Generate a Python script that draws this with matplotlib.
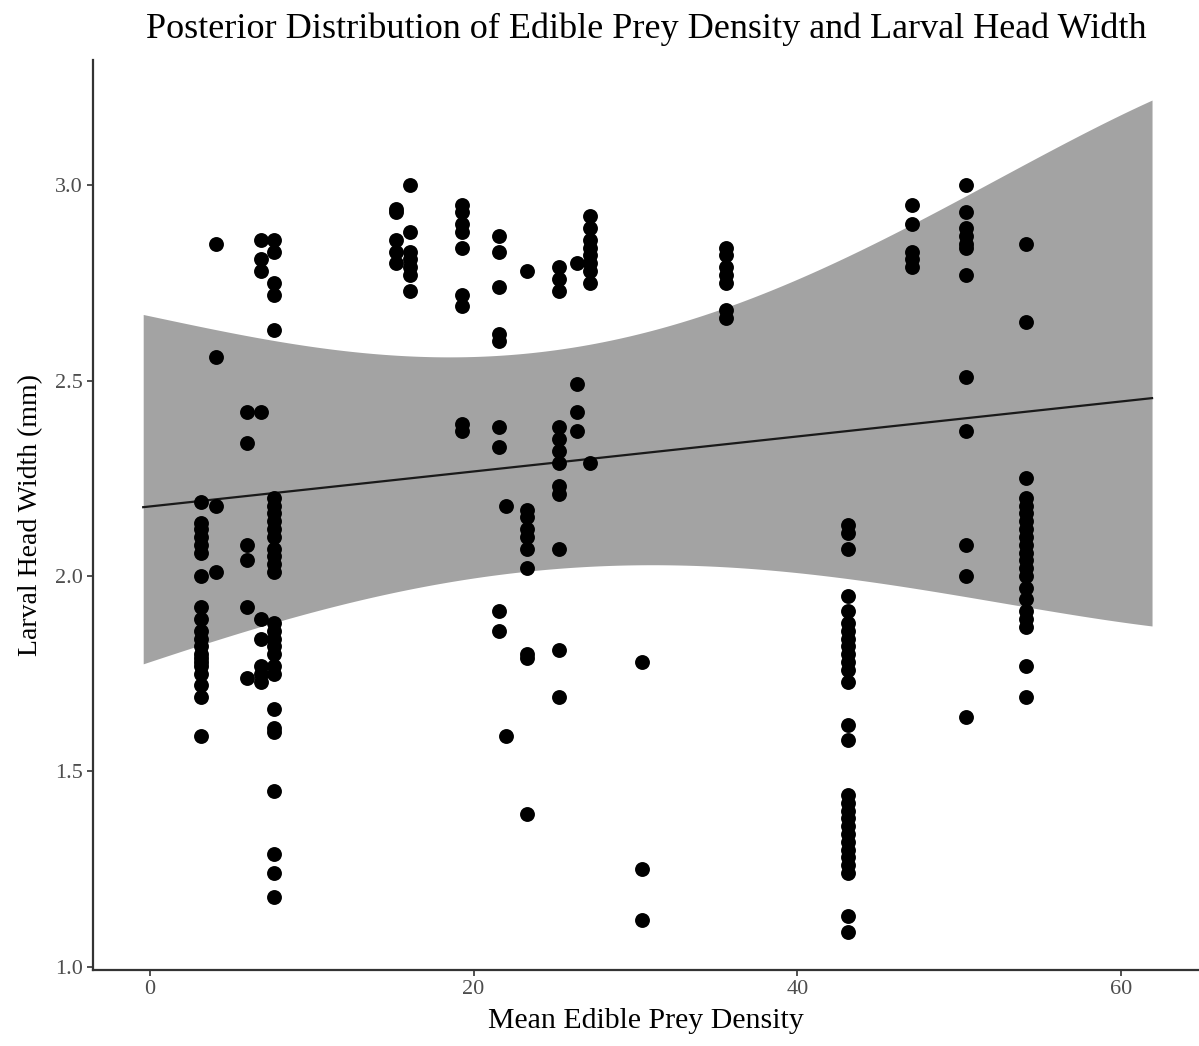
import matplotlib
matplotlib.use("Agg")
import matplotlib.pyplot as plt
import numpy as np

# prey density per site and the head widths measured there
site_density = [3.2, 4.1, 6.0, 6.9, 7.7, 15.2, 16.1, 19.3, 21.6, 22.0, 23.3,
                25.3, 26.4, 27.2, 30.4, 35.6, 43.1, 47.1, 50.4, 54.1]
head_widths = [
    [2.19, 2.135, 2.12, 2.10, 2.08, 2.06, 2.00, 1.92, 1.89, 1.86, 1.84, 1.82,
     1.80, 1.79, 1.78, 1.77, 1.75, 1.72, 1.69, 1.59],
    [2.85, 2.56, 2.18, 2.01],
    [2.42, 2.34, 2.08, 2.04, 1.92, 1.74],
    [2.86, 2.81, 2.78, 2.42, 1.89, 1.84, 1.77, 1.75, 1.73],
    [2.86, 2.83, 2.75, 2.72, 2.63, 2.20, 2.18, 2.16, 2.14, 2.12, 2.10, 2.07,
     2.05, 2.03, 2.01, 1.88, 1.86, 1.84, 1.82, 1.80, 1.77, 1.75, 1.66, 1.61,
     1.60, 1.45, 1.29, 1.24, 1.18],
    [2.94, 2.93, 2.86, 2.83, 2.80],
    [3.00, 2.88, 2.83, 2.81, 2.79, 2.77, 2.73],
    [2.95, 2.93, 2.90, 2.88, 2.84, 2.72, 2.69, 2.39, 2.37],
    [2.87, 2.83, 2.74, 2.62, 2.60, 2.38, 2.33, 1.91, 1.86],
    [2.18, 1.59],
    [2.78, 2.17, 2.15, 2.12, 2.10, 2.07, 2.02, 1.80, 1.79, 1.39],
    [2.79, 2.76, 2.73, 2.38, 2.35, 2.32, 2.29, 2.23, 2.21, 2.07, 1.81, 1.69],
    [2.80, 2.49, 2.42, 2.37],
    [2.92, 2.89, 2.86, 2.84, 2.82, 2.80, 2.78, 2.75, 2.29],
    [1.78, 1.25, 1.12],
    [2.84, 2.82, 2.79, 2.77, 2.75, 2.68, 2.66],
    [2.13, 2.11, 2.07, 1.95, 1.91, 1.88, 1.86, 1.84, 1.82, 1.80, 1.78, 1.76,
     1.73, 1.62, 1.58, 1.44, 1.42, 1.40, 1.38, 1.36, 1.34, 1.32, 1.30, 1.28,
     1.26, 1.24, 1.13, 1.09],
    [2.95, 2.90, 2.83, 2.81, 2.79],
    [3.00, 2.93, 2.89, 2.87, 2.85, 2.84, 2.77, 2.51, 2.37, 2.08, 2.00, 1.64],
    [2.85, 2.65, 2.25, 2.20, 2.18, 2.16, 2.14, 2.12, 2.10, 2.08, 2.06, 2.04,
     2.02, 2.00, 1.97, 1.94, 1.91, 1.89, 1.87, 1.77, 1.69],
]

# posterior mean line and credible band
band_x = [-0.4, 5, 10, 15, 20, 25, 30, 35, 40, 45, 50, 55, 61.9]
band_lower = [1.777, 1.845, 1.905, 1.96, 1.995, 2.02, 2.03, 2.025, 2.005,
              1.98, 1.95, 1.92, 1.87]
band_upper = [2.667, 2.625, 2.59, 2.565, 2.56, 2.575, 2.615, 2.68, 2.765,
              2.86, 2.96, 3.07, 3.22]
line_x = [-0.4, 61.9]
line_y = [2.176, 2.455]

plt.rcParams['font.family'] = ['Liberation Serif', 'DejaVu Serif']

fig = plt.figure(figsize=(11.99, 10.46), dpi=100)
ax = fig.add_axes([93 / 1199, 76 / 1046, 1106 / 1199, 910 / 1046])

# smooth curves through the band edges
bx = np.array(band_x)
fine_x = np.linspace(bx[0], bx[-1], 300)
lo = np.polyval(np.polyfit(bx, band_lower, 4), fine_x)
hi = np.polyval(np.polyfit(bx, band_upper, 4), fine_x)
ax.fill_between(fine_x, lo, hi, color='#a3a3a3', linewidth=0, zorder=1)
ax.plot(line_x, line_y, color='#1a1a1a', linewidth=1.6, zorder=2)

xs, ys = [], []
for d, widths in zip(site_density, head_widths):
    xs.extend([d] * len(widths))
    ys.extend(widths)
ax.scatter(xs, ys, s=115, color='black', linewidths=0, zorder=3)

ax.set_xlim(-3.5, 64.8)
ax.set_ylim(0.992, 3.32)
ax.set_xticks([0, 20, 40, 60])
ax.set_yticks([1.0, 1.5, 2.0, 2.5, 3.0])
ax.set_yticklabels(['1.0', '1.5', '2.0', '2.5', '3.0'])

for side in ['top', 'right']:
    ax.spines[side].set_visible(False)
for side in ['left', 'bottom']:
    ax.spines[side].set_color('#333333')
    ax.spines[side].set_linewidth(1.6)
ax.tick_params(direction='out', length=4, width=1.2, color='#333333',
               labelcolor='#4d4d4d', labelsize=16)

ax.set_xlabel('Mean Edible Prey Density', fontsize=21.5, color='black', labelpad=6)
ax.set_ylabel('Larval Head Width (mm)', fontsize=20, color='black', labelpad=8)
ax.set_title('Posterior Distribution of Edible Prey Density and Larval Head Width',
             fontsize=26, pad=16)

fig.savefig('out.png', dpi=100)
